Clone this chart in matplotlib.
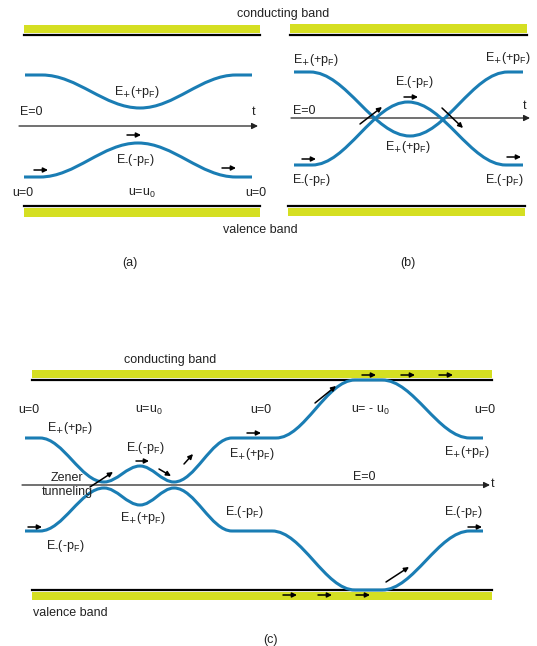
import matplotlib
matplotlib.use("Agg")
import matplotlib.pyplot as plt
from matplotlib.path import Path
from matplotlib.patches import PathPatch

plt.rcParams['font.family'] = ['Liberation Sans', 'DejaVu Sans']
plt.rcParams['mathtext.default'] = 'regular'

BLUE = '#1a7db4'
YELLOW = '#d5df22'
FS = 9

EP = r'E$_{\text{+}}$(+p$_F$)'
EM = r'E$_{\text{-}}$(-p$_F$)'

# ---- band edges: (x0, x1, line_y, bar_y0, bar_y1)
bands = [
    (24, 260, 35, 25, 33),      # (a) conducting
    (24, 260, 206, 208, 217),   # (a) valence
    (290, 527, 35, 24, 33),     # (b) conducting
    (288, 525, 206, 208, 216),  # (b) valence
    (32, 492, 380, 370, 378),   # (c) conducting
    (32, 492, 590, 592, 600),   # (c) valence
]

# ---- energy curves: knots (t, level); smooth steps with flat tangents at knots
a_up_t = [25, 42, 140, 236, 252]
a_up_e = [75, 75, 108, 75, 75]
a_lo_t = [24, 40, 138, 236, 252]
a_lo_e = [177, 177, 143, 177, 177]

b_up_t = [294, 310, 410, 508, 523]
b_up_e = [72, 72, 136, 72, 72]
b_lo_t = [294, 312, 408, 506, 523]
b_lo_e = [165, 165, 102, 165, 165]

c_up_t = [25, 40, 104, 140, 174, 232, 276, 355, 382, 470, 483]
c_up_e = [438, 438, 482, 466, 482, 438, 438, 380, 380, 438, 438]
c_lo_t = [25, 40, 104, 140, 174, 232, 272, 355, 382, 470, 483]
c_lo_e = [531, 531, 488, 505, 488, 531, 531, 590, 590, 531, 531]

curves = [(a_up_t, a_up_e), (a_lo_t, a_lo_e), (b_up_t, b_up_e),
          (b_lo_t, b_lo_e), (c_up_t, c_up_e), (c_lo_t, c_lo_e)]

# ---- time axes: (x0, x1, y)
axes_t = [(19, 258, 126), (291, 530, 118), (22, 490, 485)]

# ---- motion arrows: (x0, y0, x1, y1)
arrows = [
    (34, 170, 48, 170), (127, 135, 141, 135), (222, 168, 236, 168),
    (302, 159, 316, 159), (404, 97, 418, 97), (507, 157, 521, 157),
    (360, 124, 382, 107), (442, 108, 463, 128),
    (28, 527, 42, 527), (136, 461, 149, 461), (159, 469, 171, 476),
    (184, 464, 193, 454), (247, 433, 261, 433), (315, 403, 336, 386),
    (362, 375, 376, 375), (401, 375, 415, 375), (439, 375, 453, 375),
    (283, 595, 297, 595), (318, 595, 332, 595), (356, 595, 370, 595),
    (386, 582, 409, 567), (468, 527, 482, 527),
    (90, 487, 113, 472),
]

# ---- labels: (x, y, text, ha)
labels = [
    (283, 14, 'conducting band', 'center'),
    (137, 92, EP, 'center'), (20, 112, 'E=0', 'left'), (252, 112, 't', 'left'),
    (135, 160, EM, 'center'),
    (12, 193, 'u=0', 'left'), (128, 193, r'u=u$_0$', 'left'), (245, 193, 'u=0', 'left'),
    (260, 230, 'valence band', 'center'), (130, 263, '(a)', 'center'),
    (316, 60, EP, 'center'), (414, 82, EM, 'center'), (293, 111, 'E=0', 'left'),
    (523, 106, 't', 'left'), (408, 147, EP, 'center'), (508, 58, EP, 'center'),
    (311, 180, EM, 'center'), (504, 180, EM, 'center'), (408, 263, '(b)', 'center'),
    (170, 360, 'conducting band', 'center'),
    (18, 410, 'u=0', 'left'), (135, 410, r'u=u$_0$', 'left'), (250, 410, 'u=0', 'left'),
    (351, 410, r'u= - u$_0$', 'left'), (474, 410, 'u=0', 'left'),
    (70, 428, EP, 'center'), (145, 448, EM, 'center'), (252, 454, EP, 'center'),
    (67, 478, 'Zener', 'center'), (67, 492, 'tunneling', 'center'),
    (143, 518, EP, 'center'), (65, 546, EM, 'center'), (244, 512, EM, 'center'),
    (467, 452, EP, 'center'), (463, 512, EM, 'center'),
    (364, 477, 'E=0', 'center'), (491, 484, 't', 'left'),
    (70, 613, 'valence band', 'center'), (270, 640, '(c)', 'center'),
]


def smooth_path(ts, es, k=0.36):
    verts = [(ts[0], es[0])]
    codes = [Path.MOVETO]
    for i in range(len(ts) - 1):
        d = k * (ts[i + 1] - ts[i])
        verts += [(ts[i] + d, es[i]), (ts[i + 1] - d, es[i + 1]), (ts[i + 1], es[i + 1])]
        codes += [Path.CURVE4] * 3
    return Path(verts, codes)


fig = plt.figure(figsize=(5.37, 6.46), dpi=100)
ax = fig.add_axes([0, 0, 1, 1])
ax.set_xlim(0, 537)
ax.set_ylim(646, 0)
ax.axis('off')

for x0, x1, ly, by0, by1 in bands:
    ax.fill_between([x0, x1], by0, by1, color=YELLOW, lw=0, zorder=1)
    ax.plot([x0, x1], [ly, ly], color='k', lw=1.6, zorder=2)

for ts, es in curves:
    ax.add_patch(PathPatch(smooth_path(ts, es), fc='none', ec=BLUE, lw=2.2, zorder=3))

for x0, x1, y in axes_t:
    ax.annotate('', xy=(x1, y), xytext=(x0, y),
                arrowprops=dict(arrowstyle='-|>', color='#222222', lw=0.9,
                                mutation_scale=9, shrinkA=0, shrinkB=0), zorder=2)

for x0, y0, x1, y1 in arrows:
    ax.annotate('', xy=(x1, y1), xytext=(x0, y0),
                arrowprops=dict(arrowstyle='-|>', color='k', lw=1.1,
                                mutation_scale=7, shrinkA=0, shrinkB=0), zorder=4)

for x, y, s, ha in labels:
    ax.text(x, y, s, ha=ha, va='center', fontsize=FS, color='#222222', zorder=5)

fig.savefig('out.png', dpi=100, facecolor='white')
